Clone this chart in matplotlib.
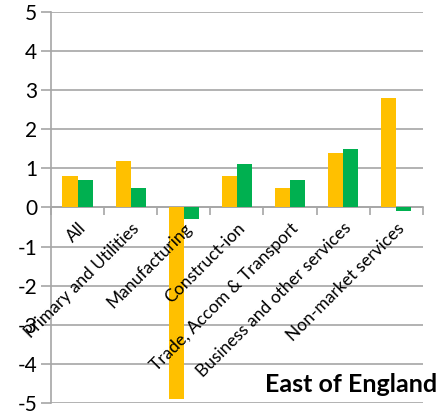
import matplotlib
matplotlib.use("Agg")
import matplotlib.pyplot as plt
import numpy as np

categories = ["All", "Primary and Utilities", "Manufacturing", "Construct-ion",
              "Trade, Accom & Transport", "Business and other services",
              "Non-market services"]
series_a = [0.8, 1.2, -4.9, 0.8, 0.5, 1.4, 2.8]
series_b = [0.7, 0.5, -0.3, 1.1, 0.7, 1.5, -0.1]
y_ticks = [-5, -4, -3, -2, -1, 0, 1, 2, 3, 4, 5]
title = "East of England"

plt.rcParams["font.family"] = ["Lato", "DejaVu Sans"]

fig = plt.figure(figsize=(4.47, 4.17), dpi=100)
ax = fig.add_axes([0.114, 0.034, 0.832, 0.937])

x = np.arange(len(categories))
w = 0.283
grid_c = "#a6a6a6"
ax.bar(x - w / 2, series_a, w, color="#FFC000", zorder=3)
ax.bar(x + w / 2, series_b, w, color="#00B050", zorder=3)

ax.set_xlim(-0.5, len(categories) - 0.5)
ax.set_ylim(-5, 5)
ax.set_yticks(y_ticks)
ax.set_yticklabels([str(v) for v in y_ticks], fontsize=15)
ax.yaxis.grid(True, color=grid_c, linewidth=1.2, zorder=0)
ax.tick_params(axis="y", length=7, width=1.2, color=grid_c, pad=3)

for s in ["top", "right"]:
    ax.spines[s].set_visible(False)
ax.spines["left"].set_color(grid_c)
ax.spines["left"].set_linewidth(1.2)
ax.spines["bottom"].set_position(("data", 0))
ax.spines["bottom"].set_color(grid_c)
ax.spines["bottom"].set_linewidth(1.2)

# category labels at centres, tick marks at category boundaries
ax.set_xticks(x)
ax.set_xticklabels(categories, rotation=45, ha="right", va="top",
                   rotation_mode="anchor", fontsize=12.5)
ax.tick_params(axis="x", which="major", length=0, pad=9)
ax.set_xticks(np.arange(len(categories) + 1) - 0.5, minor=True)
ax.tick_params(axis="x", which="minor", length=6, width=1.2, color=grid_c,
               direction="out")
ax.xaxis.set_zorder(5)

fig.text(0.978, 0.060, title, ha="right", va="baseline", fontsize=18,
         fontweight="bold")

fig.savefig("out.png", dpi=100)
